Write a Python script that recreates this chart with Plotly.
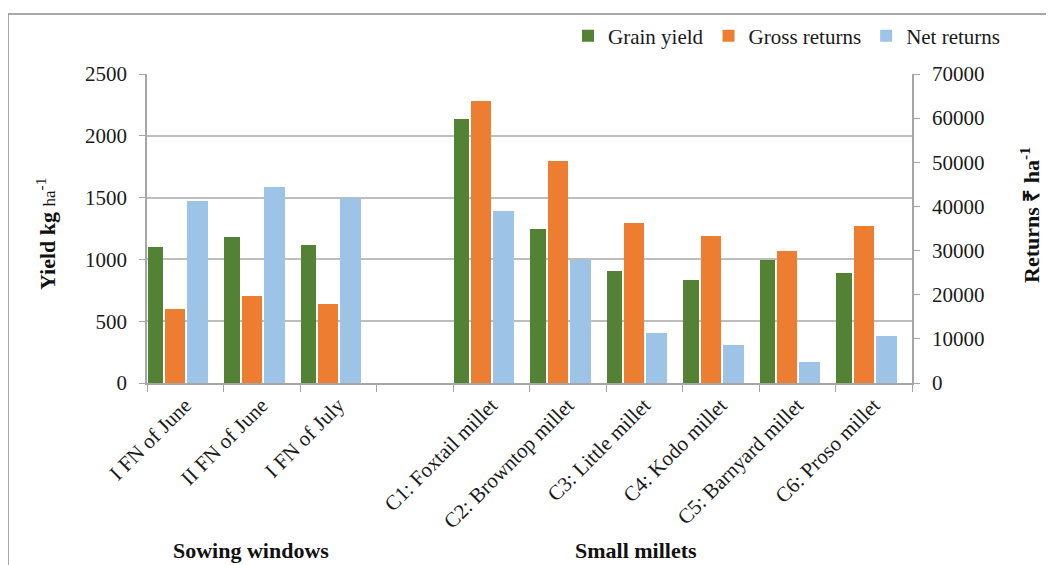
import plotly.graph_objects as go

categories = ["I FN of June", "II FN of June", "I FN of July", " ",
              "C1: Foxtail millet", "C2: Browntop millet", "C3: Little millet",
              "C4: Kodo millet", "C5: Barnyard millet", "C6: Proso millet"]
grain_yield = [1100, 1181, 1119, None, 2136, 1243, 906, 836, 998, 890]
gross_returns = [16800, 19800, 17800, None, 63800, 50300, 36300, 33400, 29800, 35600]
net_returns = [41200, 44300, 42000, None, 39000, 27900, 11250, 8600, 4800, 10600]

FONT = "Liberation Serif"
GREEN = "#548235"
ORANGE = "#ED7D31"
BLUE = "#9DC3E6"
GRID = "#bdbdbd"
AXIS = "#a6a6a6"
TXT = "#1a1a1a"

fig = go.Figure()
fig.add_trace(go.Bar(x=categories, y=grain_yield, name="Grain yield",
                     marker=dict(color=GREEN, line=dict(width=0)),
                     offset=-0.49, width=0.2, yaxis="y"))
fig.add_trace(go.Bar(x=categories, y=gross_returns, name="Gross returns",
                     marker=dict(color=ORANGE, line=dict(width=0)),
                     offset=-0.26, width=0.262, yaxis="y2"))
fig.add_trace(go.Bar(x=categories, y=net_returns, name="Net returns",
                     marker=dict(color=BLUE, line=dict(width=0)),
                     offset=0.028, width=0.272, yaxis="y2"))

# page has an 8px body margin, so the figure starts at (8, 8)
W, H = 1046, 557
L, T = 139, 66
PW, PH = 765, 309
R = W - L - PW
B = H - T - PH


def px(x):  # page pixel -> paper x
    return (x - 147) / PW


def py(y):  # page pixel -> paper y
    return (383 - y) / PH


fig.update_layout(
    width=W, height=H,
    margin=dict(l=L, r=R, t=T, b=B, autoexpand=False),
    paper_bgcolor="white", plot_bgcolor="white",
    font=dict(family=FONT, size=20, color=TXT),
    barmode="overlay",
    bargap=0,
    showlegend=True,
    legend=dict(orientation="h", x=px(1006), xanchor="right", y=py(36), yanchor="middle",
                font=dict(size=21, family=FONT, color=TXT), itemwidth=30,
                traceorder="normal", bgcolor="rgba(0,0,0,0)"),
    xaxis=dict(type="category", categoryorder="array", categoryarray=categories,
               tickangle=-45, ticks="outside", tickson="boundaries", ticklen=7,
               tickcolor=AXIS, showline=True, linecolor=AXIS, linewidth=1.5,
               showgrid=False, tickfont=dict(size=21, family=FONT, color=TXT),
               range=[-0.5, 9.5]),
    yaxis=dict(range=[0, 2500], dtick=500, ticks="outside", ticklen=6, tickcolor=AXIS,
               showline=True, linecolor=AXIS, linewidth=1.5, showgrid=True,
               gridcolor=GRID, gridwidth=1.5, zeroline=False,
               tickfont=dict(size=21, family=FONT, color=TXT), tickformat="d",
               ticklabelstandoff=8),
    yaxis2=dict(range=[0, 70000], dtick=10000, overlaying="y", side="right",
                ticks="outside", ticklen=6, tickcolor=AXIS, showline=True,
                linecolor=AXIS, linewidth=1.5, showgrid=False, zeroline=False,
                tickfont=dict(size=21, family=FONT, color=TXT), tickformat="d",
                ticklabelstandoff=8),
)

ann = dict(xref="paper", yref="paper", showarrow=False, xanchor="center", yanchor="middle")
fig.add_annotation(x=px(46), y=py(234), textangle=-90,
                   font=dict(size=22, family=FONT, color="#111"),
                   text="<b>Yield kg</b> <span style='font-size:17px'>ha</span><sup>-1</sup>",
                   **ann)
fig.add_annotation(x=px(1030), y=py(215), textangle=-90,
                   font=dict(size=22, family=FONT, color="#111"),
                   text="<b>Returns ₹ ha<sup>-1</sup></b>", **ann)
fig.add_annotation(x=px(251), y=py(550),
                   font=dict(size=22, family=FONT, color="#111"),
                   text="<b>Sowing windows</b>", **ann)
fig.add_annotation(x=px(636), y=py(550),
                   font=dict(size=22, family=FONT, color="#111"),
                   text="<b>Small millets</b>", **ann)

# outer chart border (top and left)
fig.add_shape(type="line", xref="paper", yref="paper", x0=px(8), x1=px(1070),
              y0=py(14), y1=py(14), line=dict(color="#8c8c8c", width=1.5))
fig.add_shape(type="line", xref="paper", yref="paper", x0=px(8), x1=px(8),
              y0=py(14), y1=py(580), line=dict(color="#8c8c8c", width=1.5))

fig.write_html("out.html")
